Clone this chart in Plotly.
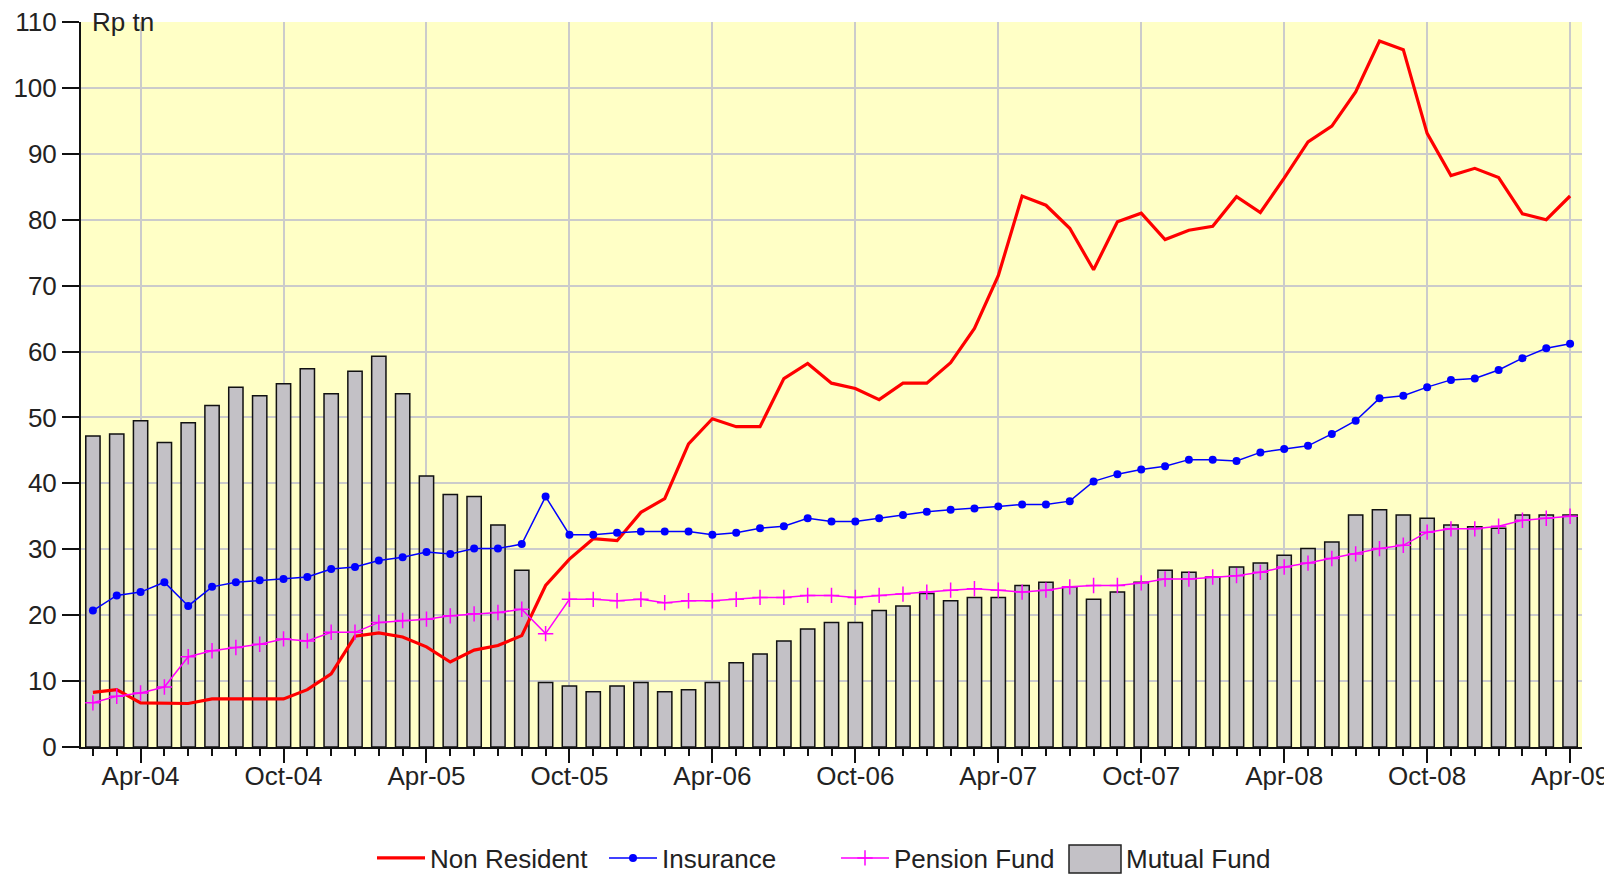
import plotly.graph_objects as go

# ---------------- data ----------------
months = [
    "Feb-04", "Mar-04", "Apr-04", "May-04", "Jun-04", "Jul-04", "Aug-04", "Sep-04", "Oct-04", "Nov-04", "Dec-04",
    "Jan-05", "Feb-05", "Mar-05", "Apr-05", "May-05", "Jun-05", "Jul-05", "Aug-05", "Sep-05", "Oct-05", "Nov-05", "Dec-05",
    "Jan-06", "Feb-06", "Mar-06", "Apr-06", "May-06", "Jun-06", "Jul-06", "Aug-06", "Sep-06", "Oct-06", "Nov-06", "Dec-06",
    "Jan-07", "Feb-07", "Mar-07", "Apr-07", "May-07", "Jun-07", "Jul-07", "Aug-07", "Sep-07", "Oct-07", "Nov-07", "Dec-07",
    "Jan-08", "Feb-08", "Mar-08", "Apr-08", "May-08", "Jun-08", "Jul-08", "Aug-08", "Sep-08", "Oct-08", "Nov-08", "Dec-08",
    "Jan-09", "Feb-09", "Mar-09", "Apr-09",
]

non_resident = [
    8.3, 8.7, 6.7, 6.6, 6.6, 7.3, 7.3, 7.3, 7.3, 8.7, 11.1,
    16.8, 17.3, 16.7, 15.2, 12.9, 14.7, 15.4, 16.9, 24.5, 28.5, 31.6, 31.3,
    35.6, 37.7, 46.0, 49.8, 48.6, 48.6, 55.9, 58.2, 55.2, 54.4, 52.7, 55.2,
    55.2, 58.3, 63.5, 71.5, 83.6, 82.2, 78.7, 72.4, 79.7, 81.0, 77.0, 78.4,
    79.0, 83.5, 81.1, 86.3, 91.8, 94.2, 99.4, 107.1, 105.8, 93.1, 86.7, 87.8,
    86.4, 80.9, 80.0, 83.6,
]

insurance = [
    20.7, 23.0, 23.5, 25.0, 21.4, 24.3, 25.0, 25.3, 25.5, 25.8, 27.0,
    27.3, 28.3, 28.8, 29.6, 29.3, 30.1, 30.1, 30.8, 38.0, 32.2, 32.2, 32.5,
    32.7, 32.7, 32.7, 32.2, 32.5, 33.2, 33.5, 34.7, 34.2, 34.2, 34.7, 35.2,
    35.7, 36.0, 36.2, 36.5, 36.8, 36.8, 37.3, 40.3, 41.4, 42.1, 42.6, 43.6,
    43.6, 43.4, 44.7, 45.2, 45.7, 47.5, 49.5, 52.9, 53.3, 54.6, 55.7, 55.9,
    57.2, 59.0, 60.5, 61.2,
]

pension_fund = [
    6.7, 7.7, 8.2, 9.1, 13.7, 14.6, 15.1, 15.6, 16.4, 16.1, 17.4,
    17.4, 18.9, 19.2, 19.4, 19.9, 20.2, 20.4, 20.9, 17.2, 22.4, 22.4, 22.2,
    22.4, 21.9, 22.2, 22.2, 22.4, 22.7, 22.7, 23.0, 23.0, 22.7, 23.0, 23.2,
    23.5, 23.8, 24.0, 23.8, 23.5, 23.8, 24.3, 24.5, 24.5, 24.9, 25.5, 25.5,
    25.8, 26.0, 26.5, 27.3, 27.9, 28.6, 29.3, 30.1, 30.6, 32.6, 33.1, 33.1,
    33.5, 34.4, 34.7, 35.0,
]

mutual_fund = [
    47.2, 47.5, 49.5, 46.2, 49.2, 51.8, 54.6, 53.3, 55.1, 57.4, 53.6,
    57.0, 59.3, 53.6, 41.1, 38.3, 38.0, 33.7, 26.8, 9.8, 9.25, 8.4, 9.25,
    9.8, 8.4, 8.7, 9.8, 12.8, 14.1, 16.1, 17.9, 18.9, 18.9, 20.7, 21.4,
    23.3, 22.2, 22.7, 22.7, 24.5, 25.0, 24.3, 22.4, 23.5, 25.0, 26.8, 26.5,
    25.8, 27.3, 27.9, 29.1, 30.1, 31.1, 35.2, 36.0, 35.2, 34.7, 33.7, 33.4,
    33.2, 35.2, 35.2, 35.2,
]

y_unit_label = "Rp tn"

# ---------------- figure ----------------
x = list(range(len(months)))
major_idx = [i for i, m in enumerate(months) if m.startswith(("Apr", "Oct"))]
major_txt = [months[i] for i in major_idx]

FONT = "Liberation Sans, Arial, sans-serif"
GRID = "#CBCBCB"
TXT = "#222222"
BAR_FILL = "#C3C1C6"
FS = 26

W, H = 1604, 866   # page body keeps an 8px margin
ML, MR, MT, MB = 73, 30, 14, 127
PW, PH = W - ML - MR, H - MT - MB

fig = go.Figure()

fig.add_trace(go.Scatter(
    x=x, y=non_resident, name="Non Resident", mode="lines",
    line=dict(color="#FF0000", width=3.2),
))
fig.add_trace(go.Scatter(
    x=x, y=insurance, name="Insurance", mode="lines+markers",
    line=dict(color="#0000FF", width=1.5),
    marker=dict(symbol="circle", size=8, color="#0000FF"),
))
fig.add_trace(go.Scatter(
    x=x, y=pension_fund, name="Pension Fund", mode="lines+markers",
    line=dict(color="#FF00FF", width=1.5),
    marker=dict(symbol="cross-thin", size=11, color="#FF00FF",
                line=dict(color="#FF00FF", width=1.5)),
))
# legend entry for the bars (its swatch is drawn as a larger box below)
fig.add_trace(go.Scatter(
    x=[None], y=[None], name="Mutual Fund", mode="markers",
    marker=dict(size=1, color="rgba(0,0,0,0)"), hoverinfo="skip",
))
fig.add_trace(go.Bar(
    x=x, y=mutual_fund, name="Mutual Fund", width=0.6, showlegend=False,
    marker=dict(color=BAR_FILL, line=dict(color="#111111", width=1.5)),
))

fig.update_layout(
    width=W, height=H,
    margin=dict(l=ML, r=MR, t=MT, b=MB, autoexpand=False),
    paper_bgcolor="white",
    plot_bgcolor="#FFFFC6",
    font=dict(family=FONT, size=FS, color=TXT),
    showlegend=True,
    legend=dict(
        orientation="h", xref="container", yref="container",
        x=364 / W, xanchor="left", y=16 / H, yanchor="middle",
        font=dict(size=FS, color=TXT),
        traceorder="normal",
        itemwidth=48,
        entrywidth=169, entrywidthmode="pixels",
        bgcolor="rgba(0,0,0,0)",
    ),
    bargap=0.4,
)

fig.update_xaxes(
    range=[-0.5, len(months) - 0.5],
    tickmode="array", tickvals=major_idx, ticktext=major_txt,
    ticks="outside", ticklen=14, tickwidth=1.5, tickcolor="#111111",
    ticklabelstandoff=-9, ticklabeloverflow="allow", automargin=False,
    showgrid=True, gridcolor=GRID, gridwidth=1.5,
    showline=True, linecolor="#111111", linewidth=2,
    zeroline=False,
    tickfont=dict(size=FS, color=TXT),
    minor=dict(tickmode="linear", tick0=0, dtick=1, ticklen=7,
               tickwidth=1.5, tickcolor="#111111", ticks="outside", showgrid=False),
)
fig.update_yaxes(
    range=[0, 110], tickmode="linear", tick0=0, dtick=10,
    ticks="outside", ticklen=17, tickwidth=1.5, tickcolor="#111111",
    ticklabeloverflow="allow", automargin=False,
    showgrid=True, gridcolor=GRID, gridwidth=1.5,
    showline=True, linecolor="#111111", linewidth=2,
    zeroline=False,
    tickfont=dict(size=FS, color=TXT),
)

fig.add_annotation(
    text=y_unit_label, xref="paper", yref="paper", x=8.5 / PW, y=1.0,
    xanchor="left", yanchor="middle", showarrow=False,
    font=dict(size=FS, color=TXT),
)

# larger legend swatch for the Mutual Fund bars (as in the original key)
sw_x0, sw_x1 = 1061, 1113          # figure pixels
sw_y0, sw_y1 = 837, 865
fig.add_shape(
    type="rect", xref="paper", yref="paper",
    x0=(sw_x0 - ML) / PW, x1=(sw_x1 - ML) / PW,
    y0=(H - MB - sw_y1) / PH, y1=(H - MB - sw_y0) / PH,
    fillcolor=BAR_FILL, line=dict(color="#222222", width=1.5), layer="above",
)

fig.write_html("out.html")
